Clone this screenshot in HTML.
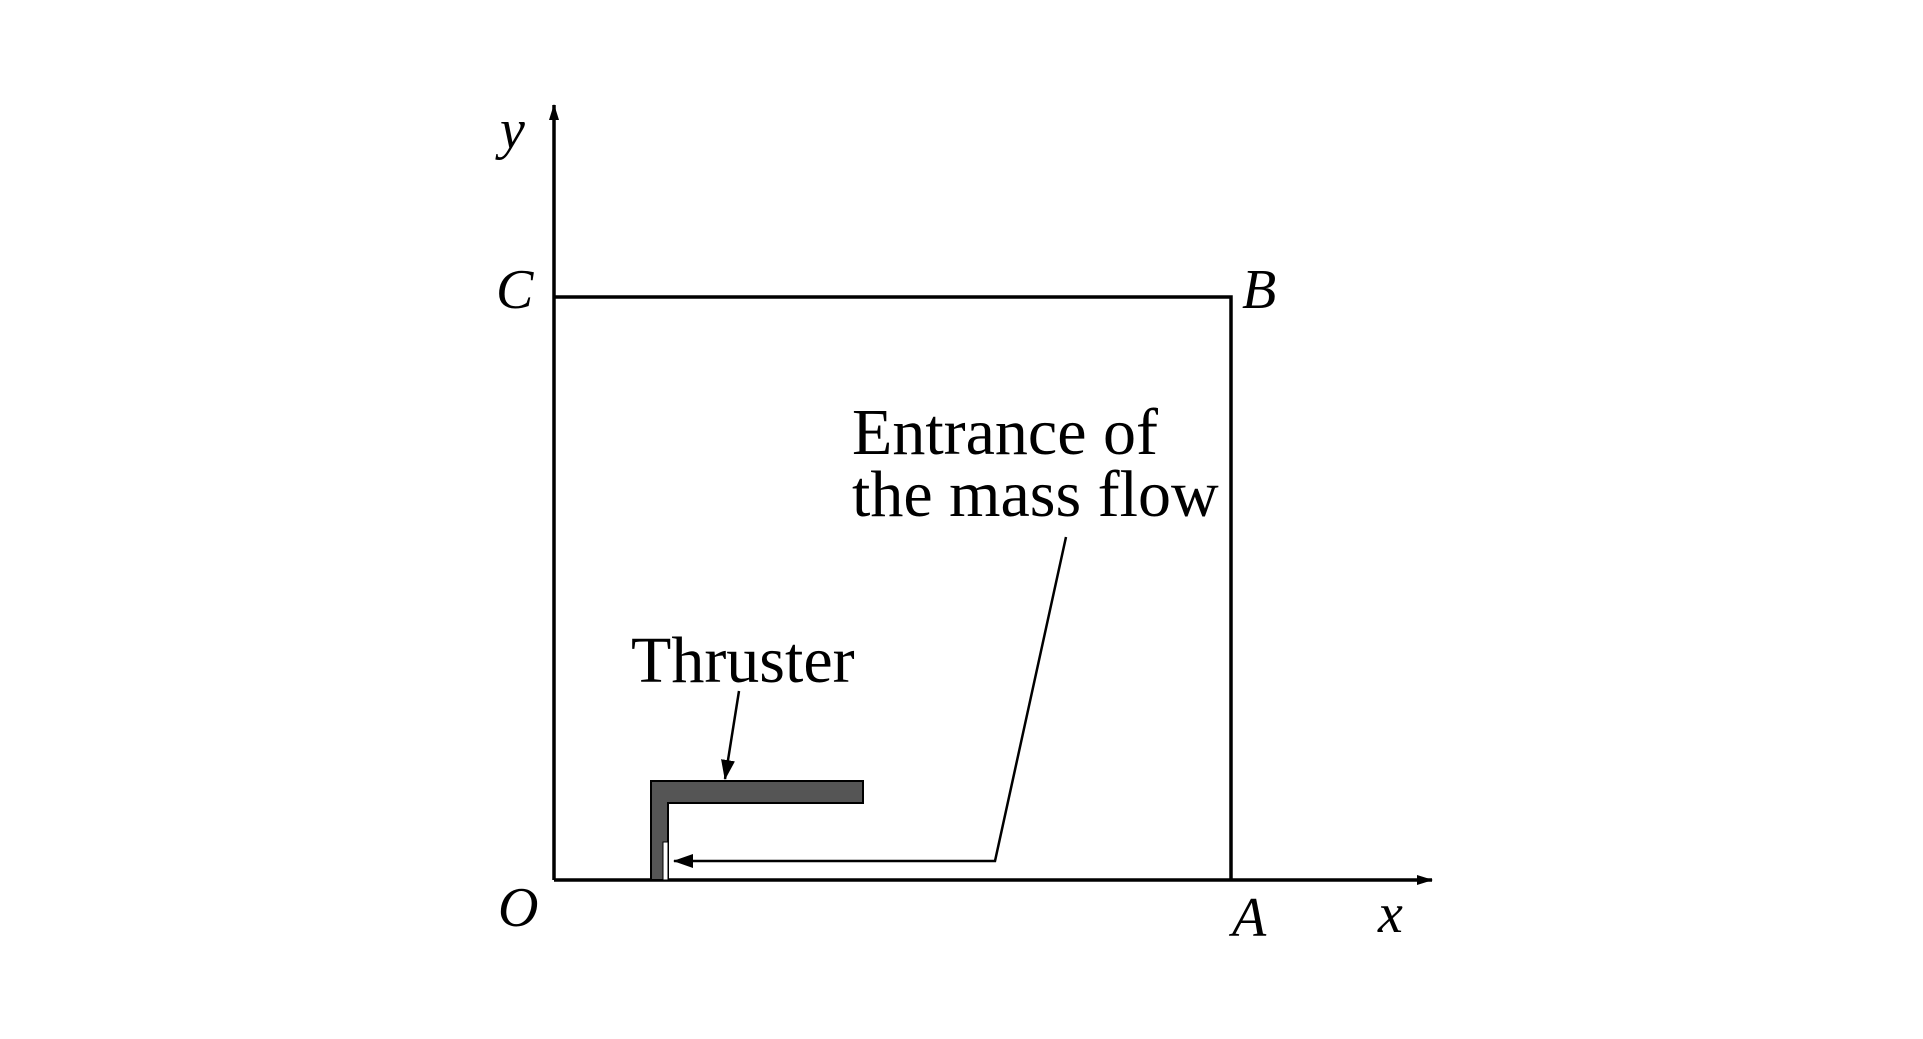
<!DOCTYPE html>
<html><head><style>
html,body{margin:0;padding:0;background:#fff;}
svg{display:block;}
text{font-family:"Liberation Serif",serif;fill:#000;}
</style></head><body>
<svg width="1923" height="1039" viewBox="0 0 1923 1039">
<defs>
<marker id="ah" markerWidth="16" markerHeight="10" refX="15" refY="5" orient="auto" markerUnits="userSpaceOnUse"><path d="M0,0 L16,5 L0,10 Z" fill="#000"/></marker>
<marker id="ah2" markerWidth="20" markerHeight="14" refX="19" refY="7" orient="auto" markerUnits="userSpaceOnUse"><path d="M0,0 L20,7 L0,14 Z" fill="#000"/></marker>
</defs>
<g transform="translate(-4,-3)">
<g stroke="#000" stroke-width="3.5" fill="none">
<line x1="558" y1="883" x2="558" y2="108" marker-end="url(#ah)"/>
<line x1="558" y1="883" x2="1436" y2="883" marker-end="url(#ah)"/>
<polyline points="558,300 1235,300 1235,883"/>
</g>
<path d="M655,784 L867,784 L867,806 L672,806 L672,883 L655,883 Z" fill="#555" stroke="#000" stroke-width="2"/>
<rect x="667" y="845" width="5" height="38" fill="#fff" stroke="#000" stroke-width="1"/>
<g stroke="#000" stroke-width="2.5" fill="none">
<polyline points="1070,540 999,864 678,864" marker-end="url(#ah2)"/>
<line x1="743" y1="694" x2="729" y2="782" marker-end="url(#ah2)"/>
</g>
</g>
<g font-style="italic" font-size="56">
<text x="500" y="148">y</text>
<text x="496" y="308">C</text>
<text x="1242" y="308">B</text>
<text x="498" y="926">O</text>
<text x="1232" y="936">A</text>
<text x="1378" y="932">x</text>
</g>
<g font-size="66">
<text x="852" y="454">Entrance of</text>
<text x="852" y="516">the mass flow</text>
<text x="631" y="682">Thruster</text>
</g>
</svg>
</body></html>
